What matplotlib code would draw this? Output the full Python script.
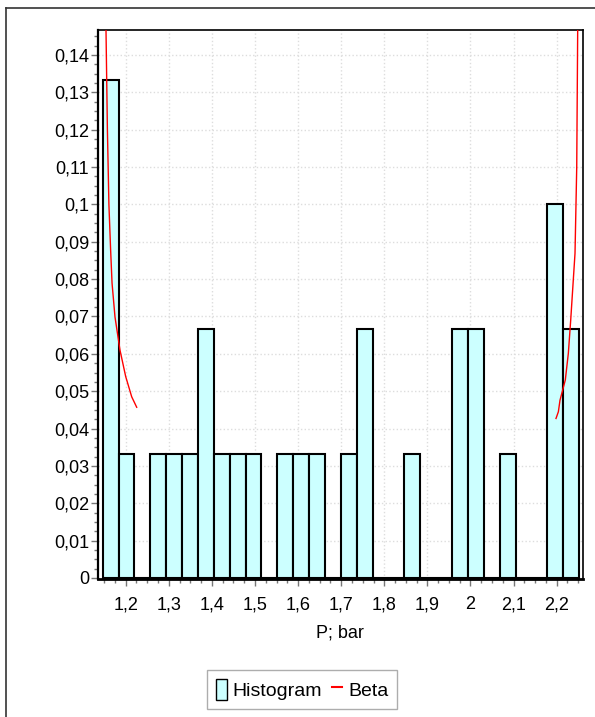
import numpy as np
import matplotlib
matplotlib.use("Agg")
import matplotlib.pyplot as plt
from matplotlib.ticker import FuncFormatter, MultipleLocator
from matplotlib.lines import Line2D
from matplotlib.patches import Patch

plt.rcParams['font.family'] = ['Liberation Sans Narrow', 'Liberation Sans', 'DejaVu Sans']

# ---- data ----
# histogram: 30 bins, relative frequency (n = 30)
bin_start = 1.1466
bin_width = 0.03684
freq = [0.1333, 0.0333, 0.0, 0.0333, 0.0333, 0.0333, 0.0667, 0.0333, 0.0333, 0.0333,
        0.0, 0.0333, 0.0333, 0.0333, 0.0, 0.0333, 0.0667, 0.0, 0.0, 0.0333,
        0.0, 0.0, 0.0667, 0.0667, 0.0, 0.0333, 0.0, 0.0, 0.1, 0.0667]

# fitted Beta curve (scaled), two visible pieces
beta_left_x = [1.1535, 1.1543, 1.1575, 1.1610, 1.1650, 1.1683, 1.1751, 1.1867, 1.2000, 1.2139, 1.2255]
beta_left_y = [0.2000, 0.1464, 0.1200, 0.1000, 0.0878, 0.0789, 0.0699, 0.0610, 0.0539, 0.0485, 0.0457]
beta_right_x = [2.1984, 2.2039, 2.2077, 2.2200, 2.2270, 2.2325, 2.2425, 2.2465, 2.2487, 2.2492]
beta_right_y = [0.0427, 0.0445, 0.0476, 0.0530, 0.0601, 0.0690, 0.0869, 0.1100, 0.1464, 0.2000]

x_ticks = [1.2, 1.3, 1.4, 1.5, 1.6, 1.7, 1.8, 1.9, 2.0, 2.1, 2.2]
y_ticks = [0.0, 0.01, 0.02, 0.03, 0.04, 0.05, 0.06, 0.07, 0.08, 0.09, 0.10, 0.11, 0.12, 0.13, 0.14]

fig = plt.figure(figsize=(5.95, 7.17), dpi=100)
ax = fig.add_axes([0.1642, 0.1918, 0.8156, 0.7657])

edges = bin_start + bin_width * np.arange(len(freq))
ax.bar(edges, freq, width=bin_width, align='edge', color='#ccffff',
       edgecolor='black', linewidth=1.5, zorder=2)

ax.plot(beta_left_x, beta_left_y, color='red', linewidth=1, zorder=3)
ax.plot(beta_right_x, beta_right_y, color='red', linewidth=1, zorder=3)

ax.set_xlim(1.135, 2.261)
ax.set_ylim(-0.0004, 0.14656)

comma = FuncFormatter(lambda v, p: f"{round(v, 4):g}".replace('.', ','))
ax.set_xticks(x_ticks)
ax.set_yticks(y_ticks)
ax.xaxis.set_major_formatter(comma)
ax.yaxis.set_major_formatter(comma)
ax.xaxis.set_minor_locator(MultipleLocator(0.025))
ax.yaxis.set_minor_locator(MultipleLocator(0.0025))
ax.tick_params(which='major', length=5, width=1, color='#777777', labelsize=13, pad=1)
ax.tick_params(which='minor', length=3, width=1, color='#777777')
ax.tick_params(axis='x', pad=7)

ax.grid(True, which='major', linestyle=':', color='#dddddd', linewidth=1, zorder=0)
ax.set_axisbelow(True)
for s in ax.spines.values():
    s.set_linewidth(1.2)
ax.spines['bottom'].set_linewidth(2)
ax.spines['left'].set_linewidth(1.6)

ax.set_xlabel("P; bar", fontsize=13, labelpad=8)

handles = [Patch(facecolor='#ccffff', edgecolor='black', linewidth=1),
           Line2D([], [], color='red', linewidth=1.5)]
leg = fig.legend(handles, ["Histogram", "Beta"], loc='center', bbox_to_anchor=(0.508, 0.0384),
                 ncol=2, fontsize=14, handlelength=0.55, handleheight=1.3, handletextpad=0.3,
                 columnspacing=0.5, fancybox=False, borderpad=0.45, borderaxespad=0)
leg.get_frame().set_edgecolor('#999999')
leg.get_frame().set_linewidth(1)

# outer frame (top and left edges visible)
fig.add_artist(Line2D([6 / 595, 1], [1 - 8 / 717, 1 - 8 / 717], color='#333333', linewidth=1.2))
fig.add_artist(Line2D([6 / 595, 6 / 595], [0, 1 - 8 / 717], color='#333333', linewidth=1.2))

fig.savefig("out.png", dpi=100)
